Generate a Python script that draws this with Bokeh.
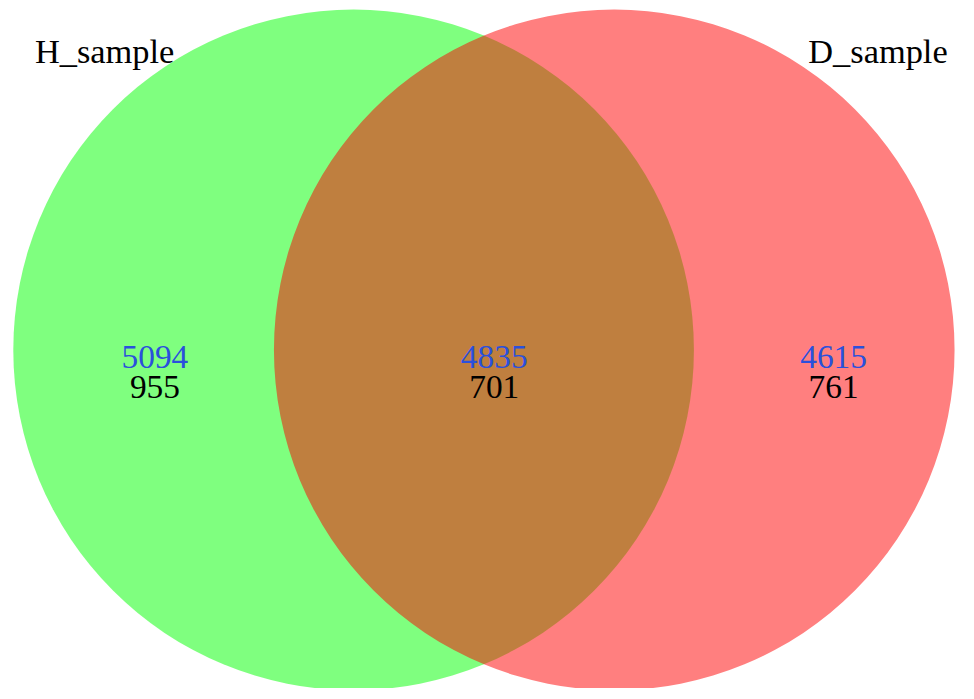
from bokeh.plotting import figure
from bokeh.models import Range1d, ColumnDataSource
from bokeh.core.properties import value
from bokeh.embed import file_html
from bokeh.resources import INLINE

# Data
set_names = ["H_sample", "D_sample"]
region_names = ["H_only", "both", "D_only"]
blue_counts = [5094, 4835, 4615]
black_counts = [955, 701, 761]

# Layout: data units = reference pixels, scaled to fit the window
REF_W, REF_H = 974, 699
W = 958
S = W / REF_W
H = int(round(REF_H * S))
p = figure(width=W, height=H, output_backend="svg", toolbar_location=None,
           x_range=Range1d(0, REF_W), y_range=Range1d(REF_H, 0),
           min_border=0)
p.axis.visible = False
p.grid.visible = False
p.outline_line_color = None
p.background_fill_color = "white"
p.border_fill_color = "white"

circle_x = [359, 624]
circle_y = [355, 355]
radius = 346
circle_colors = ["#00FF00", "#FF0000"]

for cx, cy, col in zip(circle_x, circle_y, circle_colors):
    p.circle(x=[cx], y=[cy], radius=radius, fill_color=col, fill_alpha=0.5,
             line_color=None)

font = value("Liberation Serif")
num_size = "%.1fpx" % (34 * S)
name_size = "%.1fpx" % (35 * S)

label_x = [157, 502, 847]
src_blue = ColumnDataSource(dict(x=label_x, y=[362] * 3, t=[str(v) for v in blue_counts]))
src_black = ColumnDataSource(dict(x=label_x, y=[393] * 3, t=[str(v) for v in black_counts]))
p.text(x="x", y="y", text="t", source=src_blue, text_font=font, text_font_size=num_size,
       text_align="center", text_baseline="alphabetic", text_color="#2a50dc")
p.text(x="x", y="y", text="t", source=src_black, text_font=font, text_font_size=num_size,
       text_align="center", text_baseline="alphabetic", text_color="black")

src_names = ColumnDataSource(dict(x=[35, 963], y=[51, 51], t=set_names,
                                  align=["left", "right"]))
p.text(x="x", y="y", text="t", source=src_names, text_font=font, text_font_size=name_size,
       text_align="align", text_baseline="alphabetic", text_color="black")

open("out.html", "w").write(file_html(p, INLINE))
